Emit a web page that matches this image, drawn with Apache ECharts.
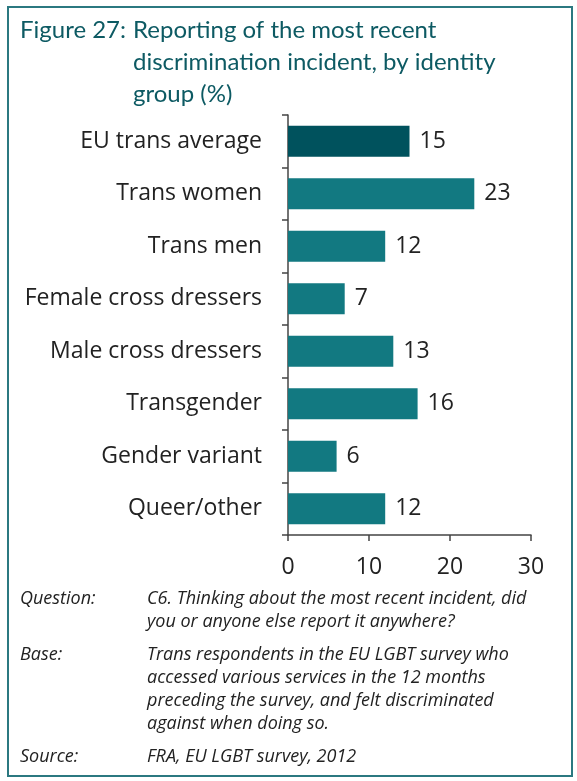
<!DOCTYPE html>
<html>
<head>
<meta charset="utf-8">
<script src="https://cdn.jsdelivr.net/npm/echarts@6/dist/echarts.min.js"></script>
<style>
  html, body { margin: 0; padding: 0; background: #fff; }
  #chart { width: 577px; height: 781px; }
</style>
</head>
<body>
<div id="chart"></div>
<script>
const categories = [
  'EU trans average',
  'Trans women',
  'Trans men',
  'Female cross dressers',
  'Male cross dressers',
  'Transgender',
  'Gender variant',
  'Queer/other'
];
const values = [15, 23, 12, 7, 13, 16, 6, 12];
const xTicks = [0, 10, 20, 30];

const titleLines = [
  'Reporting of the most recent',
  'discrimination incident, by identity',
  'group (%)'
];
const notes = [
  ['Question:', ['C6. Thinking about the most recent incident, did', 'you or anyone else report it anywhere?']],
  ['Base:', ['Trans respondents in the EU LGBT survey who', 'accessed various services in the 12 months',
    'preceding the survey, and felt discriminated', 'against when doing so.']],
  ['Source:', ['FRA, EU LGBT survey, 2012']]
];

const FONT = '"Open Sans", "Noto Sans", sans-serif';
const TITLE_FONT = 'Lato, "Open Sans", sans-serif';
const TEAL = '#127981';
const DARK = '#00525d';
const TEXT = '#222';

const chart = echarts.init(document.getElementById('chart'), null, { renderer: 'canvas' });

// frame, title and footnotes
const graphics = [
  {
    type: 'rect',
    shape: { x: 8, y: 7, width: 564, height: 769 },
    style: { fill: 'none', stroke: '#2b7880', lineWidth: 2 },
    silent: true
  },
  {
    type: 'text', left: 20, top: 14,
    style: { text: 'Figure 27:', font: '400 24px ' + TITLE_FONT, fill: '#0d5a63', lineHeight: 32 }
  },
  {
    type: 'text', left: 133, top: 14,
    style: { text: titleLines.join('\n'), font: '400 24px ' + TITLE_FONT, fill: '#0d5a63', lineHeight: 32 }
  }
];

let y = 587;
notes.forEach(([head, lines]) => {
  graphics.push({
    type: 'text', left: 20, top: y,
    style: { text: head, font: 'italic 18px ' + FONT, fill: TEXT, lineHeight: 23 }
  });
  graphics.push({
    type: 'text', left: 147, top: y,
    style: { text: lines.join('\n'), font: 'italic 18px ' + FONT, fill: TEXT, lineHeight: 23 }
  });
  y += lines.length * 23 + 10;
});

chart.setOption({
  animation: false,
  grid: { left: 288, right: 46, top: 115, bottom: 246, containLabel: false },
  xAxis: {
    type: 'value',
    min: 0,
    max: 30,
    interval: 10,
    splitLine: { show: false },
    axisLine: { show: true, lineStyle: { color: '#444', width: 1.5 } },
    axisTick: { show: true, length: 6, lineStyle: { color: '#444', width: 1.5 } },
    axisLabel: {
      color: TEXT, fontSize: 23, fontFamily: FONT, margin: 21,
      formatter: v => (xTicks.includes(v) ? String(v) : '')
    }
  },
  yAxis: {
    type: 'category',
    data: categories,
    inverse: true,
    axisLine: { show: true, lineStyle: { color: '#444', width: 1.5 } },
    axisTick: { show: true, length: 6, lineStyle: { color: '#444', width: 1.5 } },
    axisLabel: { color: TEXT, fontSize: 23, fontFamily: FONT, margin: 26 }
  },
  series: [{
    type: 'bar',
    data: values.map((v, i) => ({
      value: v,
      itemStyle: { color: i === 0 ? DARK : TEAL }
    })),
    barWidth: 31,
    label: {
      show: true,
      position: 'right',
      distance: 10,
      color: TEXT,
      fontSize: 23,
      fontFamily: FONT
    }
  }],
  graphic: graphics
});
</script>
</body>
</html>
